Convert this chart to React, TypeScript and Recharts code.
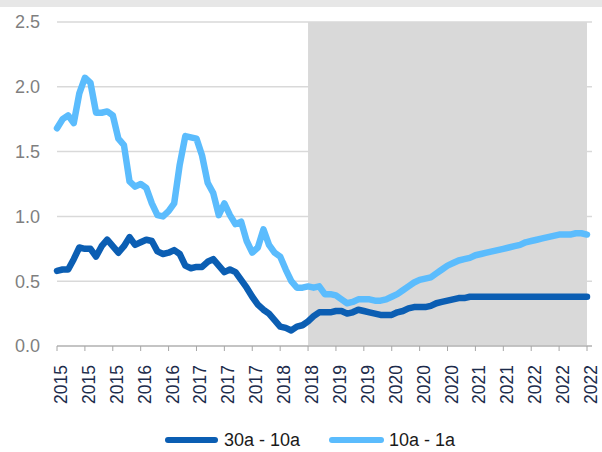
import React from "react";
import {
  LineChart,
  Line,
  XAxis,
  YAxis,
  CartesianGrid,
  ReferenceArea,
  Legend,
} from "recharts";

// monthly, Jan 2015 .. Dec 2022
const startYear = 2015;
const months: string[] = [];
for (let y = startYear; y <= 2022; y++) {
  for (let m = 1; m <= 12; m++) months.push(`${y}-${String(m).padStart(2, "0")}`);
}

const spread30_10 = [
  0.58, 0.59, 0.59, 0.67, 0.76, 0.75, 0.75, 0.69, 0.77, 0.82, 0.77, 0.72,
  0.77, 0.84, 0.78, 0.8, 0.82, 0.81, 0.73, 0.71, 0.72, 0.74, 0.71, 0.62,
  0.6, 0.61, 0.61, 0.65, 0.67, 0.62, 0.57, 0.59, 0.57, 0.51, 0.45, 0.38,
  0.32, 0.28, 0.25, 0.2, 0.15, 0.14, 0.12, 0.15, 0.16, 0.19, 0.23, 0.26,
  0.26, 0.26, 0.27, 0.27, 0.25, 0.26, 0.28, 0.27, 0.26, 0.25, 0.24, 0.24,
  0.24, 0.26, 0.27, 0.29, 0.3, 0.3, 0.3, 0.31, 0.33, 0.34, 0.35, 0.36,
  0.37, 0.37, 0.38, 0.38, 0.38, 0.38, 0.38, 0.38, 0.38, 0.38, 0.38, 0.38,
  0.38, 0.38, 0.38, 0.38, 0.38, 0.38, 0.38, 0.38, 0.38, 0.38, 0.38, 0.38,
];

const spread10_1 = [
  1.68, 1.75, 1.78, 1.72, 1.95, 2.07, 2.03, 1.8, 1.8, 1.81, 1.78, 1.6,
  1.55, 1.27, 1.23, 1.25, 1.22, 1.1, 1.01, 1.0, 1.04, 1.1, 1.4, 1.62,
  1.61, 1.6, 1.47, 1.26, 1.18, 1.01, 1.1, 1.01, 0.94, 0.96, 0.81, 0.72,
  0.76, 0.9, 0.78, 0.72, 0.69, 0.59, 0.5, 0.45, 0.45, 0.46, 0.45, 0.46,
  0.4, 0.4, 0.39, 0.36, 0.33, 0.34, 0.36, 0.36, 0.36, 0.35, 0.35, 0.36,
  0.38, 0.4, 0.43, 0.46, 0.49, 0.51, 0.52, 0.53, 0.56, 0.59, 0.62, 0.64,
  0.66, 0.67, 0.68, 0.7, 0.71, 0.72, 0.73, 0.74, 0.75, 0.76, 0.77, 0.78,
  0.8, 0.81, 0.82, 0.83, 0.84, 0.85, 0.86, 0.86, 0.86, 0.87, 0.87, 0.86,
];

const yTicks = [0, 0.5, 1, 1.5, 2, 2.5];
const shadeFrom = "2018-10";
const shadeTo = "2022-12";

const data = months.map((m, i) => ({
  month: m,
  a: spread30_10[i],
  b: spread10_1[i],
}));

const FONT = "'Liberation Sans', Arial, sans-serif";
const DARK = "#0b5eb3";
const LIGHT = "#5bbcfd";

const YearTick = (props: any) => {
  const { x, y, payload } = props;
  return (
    <text
      transform={`translate(${x + 4},${y + 12}) rotate(-90)`}
      textAnchor="end"
      dominantBaseline="central"
      fill="#1c2b4b"
      fontSize={17.5}
      fontFamily={FONT}
    >
      {String(payload.value).slice(0, 4)}
    </text>
  );
};

const LegendBox = () => (
  <div
    style={{
      display: "flex",
      alignItems: "center",
      marginLeft: 165,
      fontFamily: FONT,
      fontSize: 18,
      color: "#1a1a1a",
      height: 20,
    }}
  >
    <span style={{ width: 53, height: 6, borderRadius: 3, background: DARK }} />
    <span style={{ marginLeft: 6 }}>30a - 10a</span>
    <span
      style={{ width: 55, height: 6, borderRadius: 3, background: LIGHT, marginLeft: 29 }}
    />
    <span style={{ marginLeft: 5 }}>10a - 1a</span>
  </div>
);

export default function App() {
  return (
    <div
      style={{
        position: "absolute",
        left: 0,
        top: 0,
        width: 602,
        height: 452,
        background: "#fff",
        overflow: "hidden",
      }}
    >
      <div style={{ position: "absolute", left: 0, top: 0, width: 602, height: 7, background: "#e7e7e7" }} />
      <LineChart
        width={602}
        height={452}
        data={data}
        margin={{ top: 22, right: 10, bottom: 0, left: 0 }}
      >
        <CartesianGrid vertical={false} stroke="#d9d9d9" strokeWidth={1.5} />
        <ReferenceArea
          x1={shadeFrom}
          x2={shadeTo}
          y1={0}
          y2={2.5}
          fill="#d9d9d9"
          fillOpacity={1}
          stroke="none"
        />
        <XAxis
          dataKey="month"
          interval={4}
          height={86}
          tick={<YearTick />}
          tickSize={5}
          axisLine={{ stroke: "#a6a6a6" }}
          tickLine={{ stroke: "#a6a6a6" }}
          padding={{ left: 0, right: 5 }}
        />
        <YAxis
          width={57}
          domain={[0, 2.5]}
          ticks={yTicks}
          tickFormatter={(v: number) => v.toFixed(1)}
          axisLine={false}
          tickLine={false}
          tickSize={0}
          tickMargin={17}
          tick={{ fill: "#7f7f7f", fontSize: 18, fontFamily: FONT }}
        />
        <Legend verticalAlign="bottom" content={<LegendBox />} wrapperStyle={{ bottom: 2 }} />
        <Line
          dataKey="a"
          name="30a - 10a"
          stroke={DARK}
          strokeWidth={6.5}
          dot={false}
          strokeLinejoin="round"
          strokeLinecap="round"
          isAnimationActive={false}
        />
        <Line
          dataKey="b"
          name="10a - 1a"
          stroke={LIGHT}
          strokeWidth={6.5}
          dot={false}
          strokeLinejoin="round"
          strokeLinecap="round"
          isAnimationActive={false}
        />
      </LineChart>
    </div>
  );
}
